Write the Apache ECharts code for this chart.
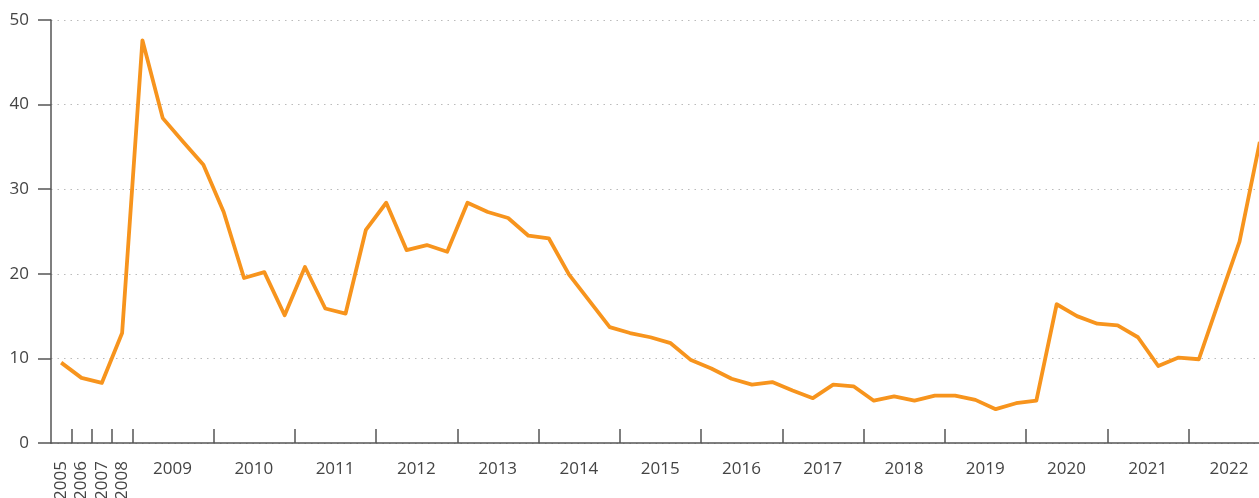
<!DOCTYPE html>
<html>
<head>
<meta charset="utf-8">
<script src="https://cdn.jsdelivr.net/npm/echarts@6/dist/echarts.min.js"></script>
<style>html,body{margin:0;padding:0;background:#fff}#c{width:1259px;height:498px}</style>
</head>
<body>
<div id="c"></div>
<script>
const annualYears = ['2005','2006','2007','2008'];
const annualValues = [9.5, 7.7, 7.1, 13.0];
const quarterYears = ['2009','2010','2011','2012','2013','2014','2015','2016','2017','2018','2019','2020','2021','2022'];
const quarterValues = [
  47.6, 38.4, 35.6, 32.9,
  27.3, 19.5, 20.2, 15.1,
  20.8, 15.9, 15.3, 25.2,
  28.4, 22.8, 23.4, 22.6,
  28.4, 27.3, 26.6, 24.5,
  24.2, 19.9, 16.8, 13.7,
  13.0, 12.5, 11.8, 9.8,
  8.8, 7.6, 6.9, 7.2,
  6.2, 5.3, 6.9, 6.7,
  5.0, 5.5, 5.0, 5.6,
  5.6, 5.1, 4.0, 4.7,
  5.0, 16.4, 15.0, 14.1,
  13.9, 12.5, 9.1, 10.1,
  9.9, 16.9, 23.8, 35.6
];
const yTicks = [0, 10, 20, 30, 40, 50];

const categories = annualYears.slice();
quarterYears.forEach(y => { for (let q = 1; q <= 4; q++) categories.push(y + ' Q' + q); });
const values = annualValues.concat(quarterValues);
const nA = annualYears.length;

const font = '"Open Sans", sans-serif';
const chart = echarts.init(document.getElementById('c'));
chart.setOption({
  animation: false,
  grid: { left: 51, right: -11, top: 20, bottom: 55, containLabel: false, outerBoundsMode: 'none' },
  xAxis: [
    {
      type: 'category', data: categories, boundaryGap: true, position: 'bottom',
      axisLine: { show: true, lineStyle: { color: '#555', width: 1.5 } },
      axisTick: { show: true, inside: true, length: 14, lineStyle: { color: '#555', width: 1.5 },
        interval: (i) => (i >= 1 && i <= nA) || (i > nA && (i - nA) % 4 === 0) },
      axisLabel: { show: true, rotate: 90, margin: 18, color: '#444', fontFamily: font, fontSize: 17,
        interval: (i) => i < nA, formatter: (v) => v },
      splitLine: { show: false }
    },
    {
      type: 'category', data: categories, boundaryGap: true, position: 'bottom',
      axisLine: { show: false }, axisTick: { show: false },
      axisLabel: { show: true, margin: 18, color: '#444', fontFamily: font, fontSize: 17,
        padding: [0, 21, 0, 0],
        interval: (i) => i >= nA && (i - nA) % 4 === 2,
        formatter: (v) => v.split(' ')[0] },
      splitLine: { show: false }
    }
  ],
  yAxis: {
    type: 'value', min: yTicks[0], max: yTicks[yTicks.length - 1], interval: 10,
    axisLine: { show: true, lineStyle: { color: '#555', width: 1.5 } },
    axisTick: { show: true, length: 13, lineStyle: { color: '#555', width: 1.5 } },
    axisLabel: { margin: 22, color: '#444', fontFamily: font, fontSize: 17 },
    splitLine: { show: true, lineStyle: { color: '#bbb', type: [1.5, 5], width: 1.2 } }
  },
  series: [{
    type: 'line', data: values, xAxisIndex: 0, symbol: 'none',
    lineStyle: { color: '#F7941D', width: 3.8, join: 'round' }
  }]
});
</script>
</body>
</html>
